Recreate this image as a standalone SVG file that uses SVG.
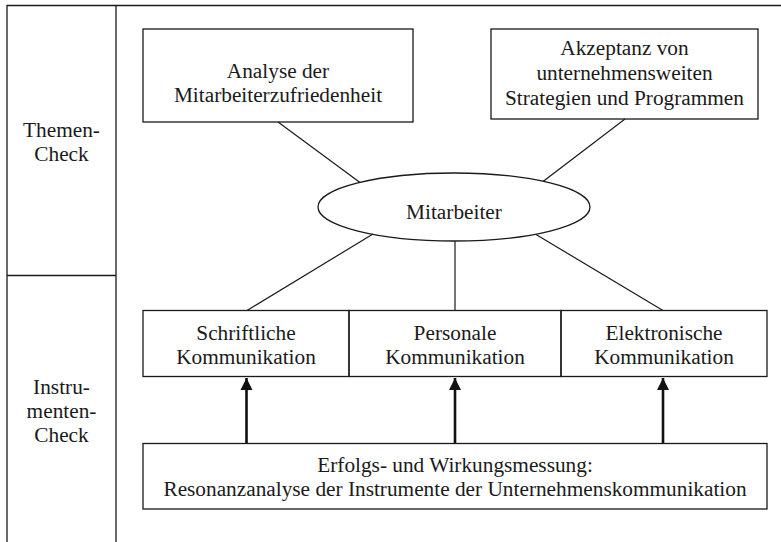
<svg xmlns="http://www.w3.org/2000/svg" width="781" height="542" viewBox="0 0 781 542" font-family="'Liberation Serif', Tinos, 'Times New Roman', Times, 'DejaVu Serif', serif">
  <style>
    .box { fill: none; stroke: #1a1a1a; stroke-width: 1.3; }
    .frame { fill: none; stroke: #1a1a1a; stroke-width: 1.3; }
    .link { stroke: #1a1a1a; stroke-width: 1.2; fill: none; }
    .arrow { stroke: #111; stroke-width: 2.6; fill: none; marker-end: url(#head); }
    .t { font-family: "Liberation Serif", Tinos, "Times New Roman", Times, "DejaVu Serif", serif; font-size: 21.3px; fill: #1a1a1a; text-anchor: middle; }
  </style>
  <defs>
    <marker id="head" viewBox="0 0 10 10" refX="10" refY="5" markerWidth="4.6" markerHeight="4.8" markerUnits="strokeWidth" orient="auto">
      <path d="M0,0 L10,5 L0,10 z" fill="#111"/>
    </marker>
  </defs>
  <rect width="781" height="542" fill="#fff"/>

  <!-- outer frame and side column -->
  <g id="frame">
    <path class="frame" d="M7,542 V5.5 H781 M116,5.5 V542 M7,275.5 H116"/>
  </g>

  <g id="label-themen" class="t">
    <text x="61.5" y="137">Themen-</text>
    <text x="61.5" y="161">Check</text>
  </g>
  <g id="label-instrumente" class="t">
    <text x="61.5" y="394">Instru-</text>
    <text x="61.5" y="418">menten-</text>
    <text x="61.5" y="442">Check</text>
  </g>

  <!-- connectors -->
  <g id="connectors">
    <line class="link" x1="278" y1="122" x2="360" y2="182.5"/>
    <line class="link" x1="625" y1="119" x2="543" y2="181.5"/>
    <line class="link" x1="247" y1="310.5" x2="373" y2="234"/>
    <line class="link" x1="455" y1="241" x2="455" y2="310.5"/>
    <line class="link" x1="663" y1="310.5" x2="536" y2="234.5"/>
    <line class="arrow" x1="246.5" y1="443" x2="246.5" y2="378"/>
    <line class="arrow" x1="455" y1="443" x2="455" y2="378"/>
    <line class="arrow" x1="663" y1="443" x2="663" y2="378"/>
  </g>

  <g id="analyse" class="t">
    <rect class="box" x="143" y="29" width="270" height="93"/>
    <text x="278" y="78">Analyse der</text>
    <text x="278" y="102">Mitarbeiterzufriedenheit</text>
  </g>

  <g id="akzeptanz" class="t">
    <rect class="box" x="491" y="29" width="267" height="90"/>
    <text x="624.5" y="55">Akzeptanz von</text>
    <text x="624.5" y="80">unternehmensweiten</text>
    <text x="624.5" y="105">Strategien und Programmen</text>
  </g>

  <g id="mitarbeiter" class="t">
    <ellipse class="box" cx="454" cy="207" rx="136" ry="34"/>
    <text x="454" y="219">Mitarbeiter</text>
  </g>

  <g id="schriftlich" class="t">
    <rect class="box" x="143" y="310.5" width="206" height="66"/>
    <text x="246" y="340">Schriftliche</text>
    <text x="246" y="364">Kommunikation</text>
  </g>
  <g id="personal" class="t">
    <rect class="box" x="349" y="310.5" width="212" height="66"/>
    <text x="455" y="340">Personale</text>
    <text x="455" y="364">Kommunikation</text>
  </g>
  <g id="elektronisch" class="t">
    <rect class="box" x="561" y="310.5" width="206" height="66"/>
    <text x="664" y="340">Elektronische</text>
    <text x="664" y="364">Kommunikation</text>
  </g>

  <g id="erfolgsmessung" class="t">
    <rect class="box" x="143" y="443.5" width="624" height="65.5"/>
    <text x="455" y="472">Erfolgs- und Wirkungsmessung:</text>
    <text x="455" y="496">Resonanzanalyse der Instrumente der Unternehmenskommunikation</text>
  </g>
</svg>
